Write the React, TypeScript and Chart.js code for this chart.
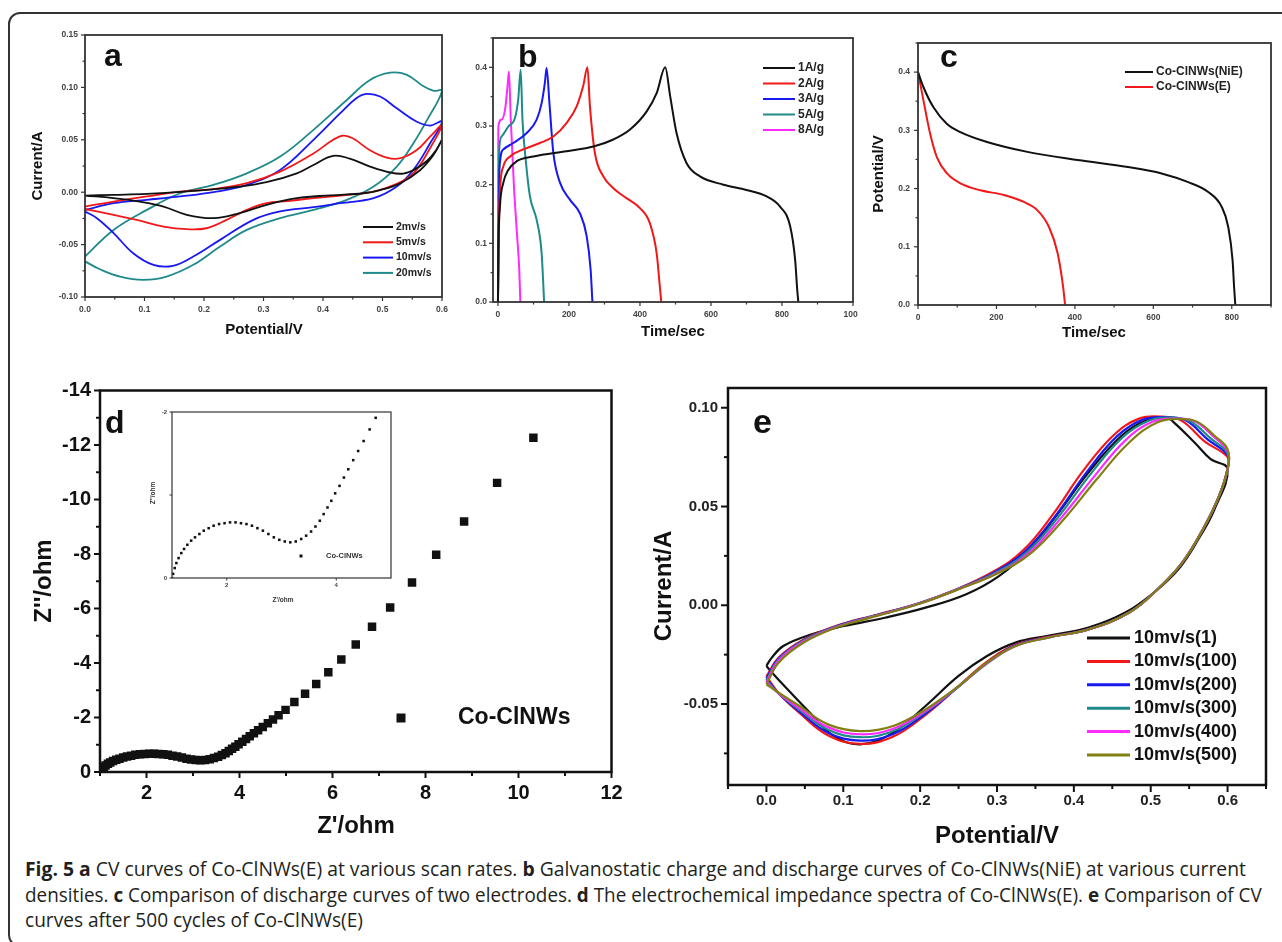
import React, { useEffect, useLayoutEffect, useRef } from 'react';
import { Chart, registerables } from 'chart.js';
Chart.register(...registerables);

// ---------------- Panel a : CV curves at various scan rates ----------------
const aLabels = ['2mv/s', '5mv/s', '10mv/s', '20mv/s'];
const aColors = ['#111111', '#f01818', '#1818f0', '#1f8a8a'];
const aCv2 = [[0,-0.0032],[0.048,-0.0025],[0.104,-0.0016],[0.155,0],[0.204,0.0022],[0.255,0.005],[0.305,0.0095],[0.356,0.018],[0.384,0.026],[0.417,0.0347],[0.445,0.032],[0.479,0.0245],[0.513,0.0188],[0.535,0.0178],[0.555,0.022],[0.575,0.03],[0.59,0.04],[0.6,0.05],
  [0.585,0.035],[0.563,0.021],[0.53,0.0086],[0.496,0.002],[0.468,-0.001],[0.412,-0.003],[0.356,-0.0057],[0.305,-0.012],[0.26,-0.02],[0.216,-0.0248],[0.171,-0.0216],[0.132,-0.0137],[0.092,-0.009],[0.048,-0.0057],[0,-0.0032]];
const aCv5 = [[0,-0.0137],[0.048,-0.009],[0.104,-0.004],[0.16,0.0006],[0.216,0.003],[0.272,0.0086],[0.328,0.0197],[0.384,0.037],[0.417,0.05],[0.434,0.054],[0.45,0.0515],[0.479,0.04],[0.507,0.033],[0.53,0.0324],[0.557,0.04],[0.58,0.053],[0.6,0.064],
  [0.578,0.04],[0.552,0.018],[0.524,0.008],[0.485,0.0006],[0.434,-0.003],[0.384,-0.0057],[0.34,-0.0085],[0.305,-0.0105],[0.272,-0.0169],[0.238,-0.0264],[0.204,-0.0344],[0.171,-0.0353],[0.132,-0.0328],[0.087,-0.0264],[0.048,-0.0216],[0,-0.016]];
const aCv10 = [[0,-0.017],[0.048,-0.0105],[0.104,-0.0073],[0.16,-0.004],[0.216,0],[0.272,0.007],[0.328,0.0213],[0.384,0.05],[0.429,0.0754],[0.456,0.0897],[0.473,0.0938],[0.496,0.0913],[0.524,0.08],[0.557,0.0674],[0.58,0.0636],[0.6,0.0674],
  [0.58,0.0467],[0.552,0.0213],[0.524,0.0054],[0.485,-0.0057],[0.429,-0.0105],[0.384,-0.0143],[0.328,-0.0184],[0.283,-0.0264],[0.227,-0.0455],[0.182,-0.0614],[0.148,-0.0703],[0.115,-0.0693],[0.081,-0.0582],[0.048,-0.039],[0.02,-0.0248],[0,-0.0184]];
const aCv20 = [[0,-0.0614],[0.048,-0.036],[0.104,-0.0169],[0.16,-0.001],[0.216,0.007],[0.272,0.018],[0.328,0.034],[0.384,0.0595],[0.44,0.088],[0.479,0.107],[0.513,0.114],[0.541,0.112],[0.569,0.101],[0.586,0.0967],[0.6,0.0967],
  [0.575,0.069],[0.552,0.0468],[0.524,0.0245],[0.485,0.0054],[0.44,-0.0073],[0.384,-0.0169],[0.328,-0.0248],[0.272,-0.036],[0.227,-0.0518],[0.182,-0.0693],[0.137,-0.0805],[0.098,-0.0836],[0.059,-0.0805],[0.025,-0.0735],[0,-0.066]];
const aXTicks = [0, 0.1, 0.2, 0.3, 0.4, 0.5, 0.6];
const aXTickLabels = ['0.0', '0.1', '0.2', '0.3', '0.4', '0.5', '0.6'];
const aYTicks = [-0.1, -0.05, 0, 0.05, 0.1, 0.15];
const aYTickLabels = ['-0.10', '-0.05', '0.00', '0.05', '0.10', '0.15'];

// ---------------- Panel b : galvanostatic charge / discharge ----------------
const bLabels = ['1A/g', '2A/g', '3A/g', '5A/g', '8A/g'];
const bColors = ['#111111', '#f01818', '#1818f0', '#1f8a8a', '#ff2aff'];
const bCd1 = [[0,0],[1,0.083],[5.6,0.163],[15,0.203],[29,0.225],[53,0.24],[100,0.248],[193,0.257],[269,0.265],[325,0.277],[372,0.294],[419,0.325],[447,0.356],[471,0.4],[485,0.351],[503,0.288],[531,0.237],[569,0.214],[635,0.2],[700,0.191],[757,0.18],[794,0.163],[823,0.129],[837,0.072],[843,0.02],[846,0]];
const bCd2 = [[0,0],[4,0.168],[15,0.231],[34,0.248],[71,0.26],[118,0.271],[156,0.282],[193,0.305],[222,0.334],[240,0.368],[252,0.4],[259,0.334],[273,0.254],[297,0.214],[325,0.194],[362,0.177],[400,0.16],[428,0.134],[447,0.083],[456,0.026],[460,0]];
const bCd3 = [[0,0],[4,0.225],[15,0.26],[43,0.271],[81,0.288],[109,0.311],[123,0.339],[132,0.373],[137,0.399],[145,0.339],[156,0.254],[175,0.203],[203,0.174],[231,0.151],[250,0.112],[261,0.055],[266,0]];
const bCd5 = [[0,0],[3,0.254],[10,0.282],[29,0.299],[48,0.314],[57,0.345],[64,0.396],[69,0.311],[79,0.237],[90,0.18],[109,0.14],[123,0.083],[130,0]];
const bCd8 = [[0,0],[1,0.299],[10,0.311],[20,0.328],[27,0.368],[31,0.393],[36,0.311],[45,0.197],[54,0.112],[60,0.055],[63,0]];
const bXTicks = [0, 200, 400, 600, 800, 1000];
const bXTickLabels = ['0', '200', '400', '600', '800', '1000'];
const bYTicks = [0, 0.1, 0.2, 0.3, 0.4];
const bYTickLabels = ['0.0', '0.1', '0.2', '0.3', '0.4'];

// ---------------- Panel c : discharge comparison ----------------
const cLabels = ['Co-ClNWs(NiE)', 'Co-ClNWs(E)'];
const cColors = ['#111111', '#f01818'];
const cNiE = [[0,0.4],[14,0.374],[39,0.34],[74,0.311],[108,0.297],[176,0.28],[279,0.263],[407,0.249],[535,0.237],[621,0.226],[689,0.211],[740,0.194],[774,0.169],[791,0.134],[802,0.077],[806,0.03],[809,0]];
const cE = [[0,0.4],[14,0.351],[31,0.294],[48,0.254],[74,0.226],[108,0.209],[159,0.197],[219,0.189],[270,0.177],[304,0.163],[334,0.134],[356,0.089],[370,0.031],[375,0]];
const cXTicks = [0, 200, 400, 600, 800];
const cXTickLabels = ['0', '200', '400', '600', '800'];
const cYTicks = [0, 0.1, 0.2, 0.3, 0.4];
const cYTickLabels = ['0.0', '0.1', '0.2', '0.3', '0.4'];

// ---------------- Panel d : impedance spectrum ----------------
const dLabel = 'Co-ClNWs';
const dPoints = [[1.00,0],[1.02,-0.05],[1.05,-0.12],[1.08,-0.18],[1.12,-0.24],[1.17,-0.30],[1.22,-0.35],[1.28,-0.40],[1.35,-0.45],[1.42,-0.49],[1.50,-0.53],[1.58,-0.57],[1.67,-0.60],[1.76,-0.63],[1.86,-0.65],[1.96,-0.66],[2.06,-0.67],[2.16,-0.67],[2.26,-0.66],[2.36,-0.65],[2.46,-0.63],[2.56,-0.60],[2.66,-0.57],[2.76,-0.53],[2.86,-0.49],[2.96,-0.46],[3.06,-0.44],[3.16,-0.43],[3.26,-0.44],[3.36,-0.47],[3.45,-0.51],[3.54,-0.56],[3.62,-0.62],[3.70,-0.69],[3.77,-0.77],[3.84,-0.85],[3.91,-0.93],[3.98,-1.02],[4.06,-1.11],[4.14,-1.21],[4.22,-1.31],[4.31,-1.42],[4.40,-1.53],[4.50,-1.65],[4.61,-1.79],[4.72,-1.93],[4.84,-2.08],[4.99,-2.28],[5.18,-2.57],[5.41,-2.87],[5.65,-3.23],[5.91,-3.66],[6.19,-4.13],[6.50,-4.68],[6.85,-5.33],[7.24,-6.04],[7.71,-6.95],[8.23,-7.97],[8.83,-9.19],[9.54,-10.61],[10.32,-12.27]];
const dXTicks = [2, 4, 6, 8, 10, 12];
const dXTickLabels = ['2', '4', '6', '8', '10', '12'];
const dYTicks = [0, -2, -4, -6, -8, -10, -12, -14];
const dYTickLabels = ['0', '-2', '-4', '-6', '-8', '-10', '-12', '-14'];
const insetXTicks = [2, 4];
const insetXTickLabels = ['2', '4'];
const insetYTicks = [0, -1, -2];
const insetYTickLabels = ['0', '', '-2'];

// ---------------- Panel e : CV after 500 cycles ----------------
const eLabels = ['10mv/s(1)', '10mv/s(100)', '10mv/s(200)', '10mv/s(300)', '10mv/s(400)', '10mv/s(500)'];
const eColors = ['#111111', '#f01818', '#1818f0', '#1f8a8a', '#ff2aff', '#808010'];
const eCycle1 = [[0,-0.0307],[0.006,-0.027],[0.022,-0.0206],[0.059,-0.0147],[0.101,-0.0105],[0.154,-0.0063],[0.207,-0.0012],[0.26,0.0056],[0.303,0.0149],[0.34,0.0275],[0.377,0.0453],[0.419,0.0672],[0.462,0.0858],[0.493,0.0934],[0.52,0.0951],[0.53,0.0926],[0.557,0.0824],[0.578,0.074],[0.6,0.069],
  [0.583,0.0486],[0.562,0.0334],[0.536,0.0182],[0.504,0.0064],[0.467,-0.0037],[0.419,-0.0113],[0.366,-0.0155],[0.324,-0.0189],[0.287,-0.0257],[0.25,-0.0358],[0.207,-0.051],[0.165,-0.0645],[0.122,-0.0704],[0.085,-0.0655],[0.057,-0.0546],[0.028,-0.0428],[0.006,-0.0335],[0,-0.0307]];
const eCycle100 = [[0,-0.036],[0.016,-0.0265],[0.048,-0.0175],[0.091,-0.0104],[0.144,-0.0048],[0.197,0.0009],[0.25,0.0085],[0.296,0.0172],[0.334,0.0278],[0.372,0.0456],[0.412,0.068],[0.452,0.0862],[0.485,0.0945],[0.515,0.0955],[0.54,0.0935],[0.57,0.083],[0.6,0.075],
  [0.6,0.069],[0.589,0.0554],[0.568,0.0385],[0.541,0.0216],[0.509,0.0081],[0.472,-0.0037],[0.419,-0.0122],[0.366,-0.016],[0.324,-0.02],[0.287,-0.0285],[0.25,-0.041],[0.207,-0.0555],[0.165,-0.0665],[0.122,-0.0702],[0.08,-0.0658],[0.043,-0.0545],[0.016,-0.0445],[0,-0.036]];
const eCycle200 = [[0,-0.037],[0.016,-0.027],[0.048,-0.0178],[0.091,-0.0106],[0.144,-0.0049],[0.197,0.0008],[0.25,0.0084],[0.298,0.017],[0.337,0.0275],[0.376,0.0452],[0.416,0.067],[0.456,0.0855],[0.49,0.094],[0.521,0.0952],[0.546,0.0935],[0.574,0.084],[0.6,0.076],
  [0.6,0.069],[0.589,0.0554],[0.568,0.0385],[0.541,0.0216],[0.509,0.0081],[0.472,-0.0037],[0.419,-0.0122],[0.366,-0.0162],[0.324,-0.0203],[0.287,-0.0292],[0.25,-0.0412],[0.207,-0.0548],[0.165,-0.0652],[0.122,-0.0685],[0.08,-0.0645],[0.043,-0.0538],[0.016,-0.0447],[0,-0.037]];
const eCycle300 = [[0,-0.038],[0.016,-0.0275],[0.048,-0.018],[0.091,-0.0108],[0.144,-0.005],[0.197,0.0007],[0.25,0.0083],[0.3,0.0168],[0.34,0.0272],[0.38,0.0448],[0.421,0.066],[0.462,0.0845],[0.498,0.0935],[0.528,0.095],[0.552,0.093],[0.578,0.0845],[0.6,0.077],
  [0.6,0.069],[0.589,0.0554],[0.568,0.0385],[0.541,0.0216],[0.509,0.0081],[0.472,-0.0037],[0.419,-0.0122],[0.366,-0.0164],[0.324,-0.0206],[0.287,-0.0295],[0.25,-0.0412],[0.207,-0.054],[0.165,-0.0637],[0.122,-0.0668],[0.08,-0.063],[0.043,-0.053],[0.016,-0.0447],[0,-0.038]];
const eCycle400 = [[0,-0.039],[0.016,-0.028],[0.048,-0.0185],[0.091,-0.011],[0.144,-0.0052],[0.197,0.0006],[0.25,0.0082],[0.303,0.0168],[0.343,0.027],[0.384,0.0445],[0.426,0.065],[0.467,0.0835],[0.503,0.093],[0.535,0.0945],[0.558,0.093],[0.58,0.086],[0.6,0.078],
  [0.6,0.069],[0.589,0.0554],[0.568,0.0385],[0.541,0.0216],[0.509,0.0081],[0.472,-0.0037],[0.419,-0.0122],[0.366,-0.0164],[0.324,-0.0206],[0.287,-0.0293],[0.25,-0.041],[0.207,-0.0535],[0.165,-0.0625],[0.122,-0.0653],[0.08,-0.0617],[0.043,-0.0522],[0.016,-0.0446],[0,-0.039]];
const eCycle500 = [[0,-0.04],[0.016,-0.029],[0.048,-0.019],[0.091,-0.0113],[0.144,-0.0054],[0.197,0.0005],[0.25,0.0081],[0.303,0.0166],[0.345,0.0267],[0.387,0.0436],[0.43,0.0639],[0.472,0.0824],[0.509,0.0926],[0.541,0.0943],[0.562,0.0926],[0.583,0.0858],[0.6,0.079],
  [0.6,0.069],[0.589,0.0554],[0.568,0.0385],[0.541,0.0216],[0.509,0.0081],[0.472,-0.0037],[0.419,-0.0122],[0.366,-0.0164],[0.324,-0.0206],[0.287,-0.029],[0.25,-0.0409],[0.207,-0.0527],[0.165,-0.0611],[0.122,-0.0637],[0.08,-0.0603],[0.043,-0.051],[0.016,-0.0443],[0,-0.04]];
const eXTicks = [0, 0.1, 0.2, 0.3, 0.4, 0.5, 0.6];
const eXTickLabels = ['0.0', '0.1', '0.2', '0.3', '0.4', '0.5', '0.6'];
const eYTicks = [-0.05, 0, 0.05, 0.1];
const eYTickLabels = ['-0.05', '0.00', '0.05', '0.10'];

// ---------------- helpers ----------------
const FONT = '"Liberation Sans", Arial, Helvetica, sans-serif';
const f = (px: number) => `bold ${px}px ${FONT}`;
const toXY = (arr: number[][]) => arr.map(([x, y]) => ({ x, y }));

function lineSet(label: string, color: string, pts: number[][], width: number, extra: any = {}) {
  return {
    label, data: toXY(pts), borderColor: color, backgroundColor: color, borderWidth: width,
    showLine: true, pointRadius: 0, pointHoverRadius: 0, fill: false, tension: 0.4, ...extra,
  };
}

const decoPlugin: any = {
  id: 'deco',
  afterDraw(chart: any, _args: any, o: any) {
    if (!o) return;
    const ctx = chart.ctx;
    const ca = chart.chartArea;
    const X = (px: number) => px - o.ox;
    const Y = (py: number) => py - o.oy;
    ctx.save();
    for (const ax of o.axes || []) {
      const sc = chart.scales[ax.id];
      const horiz = ax.id === 'x';
      ctx.strokeStyle = ax.color;
      ctx.lineWidth = ax.width;
      const drawTick = (v: number, len: number) => {
        const p = sc.getPixelForValue(v);
        ctx.beginPath();
        if (horiz) { ctx.moveTo(p, ca.bottom); ctx.lineTo(p, ca.bottom + len); }
        else { ctx.moveTo(ca.left, p); ctx.lineTo(ca.left - len, p); }
        ctx.stroke();
      };
      ax.values.forEach((v: number) => drawTick(v, ax.len));
      if (ax.minorStep) {
        const lo = Math.min(sc.min, sc.max), hi = Math.max(sc.min, sc.max);
        const k0 = Math.ceil(lo / ax.minorStep - 1e-6), k1 = Math.floor(hi / ax.minorStep + 1e-6);
        for (let k = k0; k <= k1; k++) {
          const v = k * ax.minorStep;
          if (ax.values.some((m: number) => Math.abs(m - v) < ax.minorStep * 0.01)) continue;
          drawTick(v, ax.minorLen);
        }
      }
      ctx.fillStyle = ax.labelColor;
      ctx.font = ax.font;
      ax.values.forEach((v: number, i: number) => {
        const label = ax.labels[i];
        if (!label) return;
        const p = sc.getPixelForValue(v);
        ctx.textBaseline = 'middle';
        if (horiz) { ctx.textAlign = 'center'; ctx.fillText(label, p, ca.bottom + ax.offset); }
        else { ctx.textAlign = 'right'; ctx.fillText(label, ca.left - ax.offset, p); }
      });
    }
    ctx.strokeStyle = o.boxColor;
    ctx.lineWidth = o.boxWidth;
    ctx.strokeRect(ca.left, ca.top, ca.right - ca.left, ca.bottom - ca.top);
    for (const t of o.texts || []) {
      ctx.save();
      ctx.font = t.font;
      ctx.fillStyle = t.color || '#111';
      ctx.textAlign = t.align || 'center';
      ctx.textBaseline = t.baseline || 'middle';
      ctx.translate(X(t.x), Y(t.y));
      if (t.rotate) ctx.rotate(t.rotate);
      ctx.fillText(t.text, 0, 0);
      ctx.restore();
    }
    if (o.legend) {
      const L = o.legend;
      chart.data.datasets.forEach((ds: any, i: number) => {
        const y = Y(L.y0 + i * L.dy);
        if (L.marker) {
          ctx.fillStyle = ds.backgroundColor;
          const s = L.marker;
          ctx.fillRect(X(L.mx) - s / 2, y - s / 2, s, s);
        } else {
          ctx.strokeStyle = ds.borderColor;
          ctx.lineWidth = L.lineWidth;
          ctx.beginPath();
          ctx.moveTo(X(L.x1), y);
          ctx.lineTo(X(L.x2), y);
          ctx.stroke();
        }
        ctx.fillStyle = L.color || '#111';
        ctx.font = L.font;
        ctx.textAlign = 'left';
        ctx.textBaseline = 'middle';
        ctx.fillText(ds.label, X(L.tx), y);
      });
    }
    ctx.restore();
  },
};

function Panel({ spec }: { spec: any }) {
  const ref = useRef<HTMLCanvasElement>(null);
  useEffect(() => {
    const [L, T, R, B] = spec.plot;
    const chart = new Chart(ref.current as HTMLCanvasElement, {
      type: 'scatter',
      data: { datasets: spec.datasets },
      options: {
        responsive: false,
        maintainAspectRatio: false,
        animation: false,
        devicePixelRatio: 1,
        events: [],
        layout: { padding: { left: L - spec.left, top: T - spec.top, right: spec.left + spec.width - R, bottom: spec.top + spec.height - B } },
        scales: {
          x: { type: 'linear', display: false, min: spec.x.min, max: spec.x.max, reverse: !!spec.x.reverse },
          y: { type: 'linear', display: false, min: spec.y.min, max: spec.y.max, reverse: !!spec.y.reverse },
        },
        plugins: {
          legend: { display: false },
          tooltip: { enabled: false },
          deco: { ...spec.deco, ox: spec.left, oy: spec.top },
        },
      },
      plugins: [decoPlugin],
    } as any);
    return () => chart.destroy();
  }, []);
  return (
    <canvas ref={ref} width={spec.width} height={spec.height}
      style={{ position: 'absolute', left: spec.left, top: spec.top, width: spec.width, height: spec.height }} />
  );
}

const ROT = -Math.PI / 2;
const smallAxis = (id: string, values: number[], labels: string[], minorStep: number, offset: number) => ({
  id, values, labels, minorStep, len: 4, minorLen: 2.5, font: f(8.5), color: '#333', labelColor: '#444', offset, width: 1.2,
});

const specA = {
  left: 15, top: 20, width: 440, height: 330, plot: [85, 35, 442, 297],
  x: { min: 0, max: 0.6 }, y: { min: -0.1, max: 0.15 },
  datasets: [aCv2, aCv5, aCv10, aCv20].map((d, i) => lineSet(aLabels[i], aColors[i], d, 1.8)),
  deco: {
    boxColor: '#333', boxWidth: 1.8,
    axes: [smallAxis('x', aXTicks, aXTickLabels, 0.05, 13), smallAxis('y', aYTicks, aYTickLabels, 0.025, 7)],
    texts: [
      { text: 'a', x: 104, y: 66, font: f(32), align: 'left', baseline: 'alphabetic' },
      { text: 'Current/A', x: 38, y: 166, font: f(15), rotate: ROT },
      { text: 'Potential/V', x: 264, y: 330, font: f(15) },
    ],
    legend: { x1: 363, x2: 393, tx: 396, y0: 227, dy: 15.3, font: f(10.5), lineWidth: 2, color: '#222' },
  },
};

const specB = {
  left: 455, top: 20, width: 403, height: 330, plot: [493, 38, 853, 302],
  x: { min: -14, max: 1000 }, y: { min: 0, max: 0.45 },
  datasets: [bCd1, bCd2, bCd3, bCd5, bCd8].map((d, i) => lineSet(bLabels[i], bColors[i], d, 2, { tension: 0, cubicInterpolationMode: 'monotone' })),
  deco: {
    boxColor: '#333', boxWidth: 1.8,
    axes: [smallAxis('x', bXTicks, bXTickLabels, 100, 13), smallAxis('y', bYTicks, bYTickLabels, 0.05, 6)],
    texts: [
      { text: 'b', x: 518, y: 67, font: f(32), align: 'left', baseline: 'alphabetic' },
      { text: 'Time/sec', x: 673, y: 332, font: f(15) },
    ],
    legend: { x1: 763, x2: 795, tx: 798, y0: 68, dy: 15.5, font: f(12), lineWidth: 2, color: '#222' },
  },
};

const specC = {
  left: 862, top: 20, width: 420, height: 330, plot: [918, 43, 1271, 305],
  x: { min: 0, max: 900 }, y: { min: 0, max: 0.45 },
  datasets: [cNiE, cE].map((d, i) => lineSet(cLabels[i], cColors[i], d, 2, { tension: 0, cubicInterpolationMode: 'monotone' })),
  deco: {
    boxColor: '#333', boxWidth: 1.8,
    axes: [smallAxis('x', cXTicks, cXTickLabels, 100, 13), smallAxis('y', cYTicks, cYTickLabels, 0.05, 8)],
    texts: [
      { text: 'c', x: 940, y: 67, font: f(32), align: 'left', baseline: 'alphabetic' },
      { text: 'Time/sec', x: 1094, y: 333, font: f(15) },
      { text: 'Potential/V', x: 879, y: 174, font: f(15), rotate: ROT },
    ],
    legend: { x1: 1125, x2: 1153, tx: 1156, y0: 72, dy: 15, font: f(12), lineWidth: 2, color: '#222' },
  },
};

const specD = {
  left: 20, top: 375, width: 610, height: 470, plot: [100, 390.5, 611.5, 772],
  x: { min: 1, max: 12 }, y: { min: -14, max: 0, reverse: true },
  datasets: [{
    label: dLabel, data: toXY(dPoints), showLine: false, pointStyle: 'rect', pointRadius: 6, pointBorderWidth: 0,
    backgroundColor: '#111', borderColor: '#111',
  }],
  deco: {
    boxColor: '#111', boxWidth: 2.5,
    axes: [
      { id: 'x', values: dXTicks, labels: dXTickLabels, minorStep: 1, len: 6, minorLen: 4, font: f(20), color: '#111', labelColor: '#111', offset: 21, width: 2 },
      { id: 'y', values: dYTicks, labels: dYTickLabels, minorStep: 1, len: 6, minorLen: 4, font: f(20), color: '#111', labelColor: '#111', offset: 9, width: 2 },
    ],
    texts: [
      { text: 'd', x: 105, y: 433, font: f(32), align: 'left', baseline: 'alphabetic' },
      { text: "Z''/ohm", x: 44, y: 581, font: f(24), rotate: ROT },
      { text: "Z'/ohm", x: 356, y: 826, font: f(24) },
    ],
    legend: { marker: 9, mx: 401, tx: 458, y0: 718, dy: 0, font: f(23), color: '#111' },
  },
};

const specInset = {
  left: 125, top: 402, width: 275, height: 220, plot: [172, 412, 391, 578],
  x: { min: 1, max: 5 }, y: { min: -2, max: 0, reverse: true },
  datasets: [{
    label: dLabel, data: toXY(dPoints), showLine: false, pointStyle: 'rect', pointRadius: 1.8, pointBorderWidth: 0,
    backgroundColor: '#111', borderColor: '#111',
  }],
  deco: {
    boxColor: '#333', boxWidth: 1.2,
    axes: [
      { id: 'x', values: insetXTicks, labels: insetXTickLabels, minorStep: 0, len: 2.5, minorLen: 0, font: f(6), color: '#333', labelColor: '#444', offset: 7, width: 1 },
      { id: 'y', values: insetYTicks, labels: insetYTickLabels, minorStep: 0, len: 2.5, minorLen: 0, font: f(6), color: '#333', labelColor: '#444', offset: 5, width: 1 },
    ],
    texts: [
      { text: "Z''/ohm", x: 153, y: 493, font: f(6.5), rotate: ROT, color: '#333' },
      { text: "Z'/ohm", x: 283, y: 600, font: f(6.5), color: '#333' },
    ],
    legend: { marker: 3, mx: 301, tx: 326, y0: 556, dy: 0, font: f(7.5), color: '#333' },
  },
};

const specE = {
  left: 640, top: 378, width: 642, height: 470, plot: [728, 388, 1266, 785],
  x: { min: -0.05, max: 0.65 }, y: { min: -0.091, max: 0.11 },
  datasets: [eCycle1, eCycle100, eCycle200, eCycle300, eCycle400, eCycle500].map((d, i) =>
    lineSet(eLabels[i], eColors[i], d, 2.2, { order: 5 - i })),
  deco: {
    boxColor: '#111', boxWidth: 2.5,
    axes: [
      { id: 'x', values: eXTicks, labels: eXTickLabels, minorStep: 0.05, len: 7, minorLen: 4, font: f(15), color: '#111', labelColor: '#222', offset: 16, width: 2 },
      { id: 'y', values: eYTicks, labels: eYTickLabels, minorStep: 0.025, len: 7, minorLen: 4, font: f(15), color: '#111', labelColor: '#222', offset: 10, width: 2 },
    ],
    texts: [
      { text: 'e', x: 753, y: 433, font: f(34), align: 'left', baseline: 'alphabetic' },
      { text: 'Current/A', x: 664, y: 586, font: f(24), rotate: ROT },
      { text: 'Potential/V', x: 997, y: 836, font: f(24) },
    ],
    legend: { x1: 1087, x2: 1130, tx: 1134, y0: 638, dy: 23.4, font: f(18), lineWidth: 3, color: '#111' },
  },
};

function Caption() {
  const r1 = useRef<HTMLDivElement>(null);
  const r2 = useRef<HTMLDivElement>(null);
  const r3 = useRef<HTMLDivElement>(null);
  useLayoutEffect(() => {
    const e1 = r1.current!, e2 = r2.current!, e3 = r3.current!;
    const s1 = 1221 / e1.offsetWidth;
    const s2 = 1237 / e2.offsetWidth;
    e1.style.transform = `scaleX(${s1})`;
    e2.style.transform = `scaleX(${s2})`;
    e3.style.transform = `scaleX(${(s1 + s2) / 2})`;
  }, []);
  const base: React.CSSProperties = {
    position: 'absolute', left: 25, fontFamily: '"Open Sans", "Noto Sans", sans-serif', fontSize: 19.5,
    lineHeight: '26px', color: '#231f20', whiteSpace: 'nowrap', transformOrigin: 'left top',
  };
  return (
    <>
      <div ref={r1} style={{ ...base, top: 856 }}>
        <b>Fig. 5</b> <b>a</b> CV curves of Co-ClNWs(E) at various scan rates. <b>b</b> Galvanostatic charge and discharge curves of Co-ClNWs(NiE) at various current
      </div>
      <div ref={r2} style={{ ...base, top: 882 }}>
        densities. <b>c</b> Comparison of discharge curves of two electrodes. <b>d</b> The electrochemical impedance spectra of Co-ClNWs(E). <b>e</b> Comparison of CV
      </div>
      <div ref={r3} style={{ ...base, top: 907 }}>
        curves after 500 cycles of Co-ClNWs(E)
      </div>
    </>
  );
}

export default function App() {
  return (
    <div style={{ position: 'fixed', left: 0, top: 0, width: 1282, height: 942, overflow: 'hidden', background: '#fff' }}>
      <div style={{ position: 'absolute', left: 8, top: 12, width: 1300, height: 935, border: '2px solid #333', borderRadius: 12, boxSizing: 'border-box' }} />
      <Panel spec={specA} />
      <Panel spec={specB} />
      <Panel spec={specC} />
      <Panel spec={specD} />
      <Panel spec={specInset} />
      <Panel spec={specE} />
      <Caption />
    </div>
  );
}
